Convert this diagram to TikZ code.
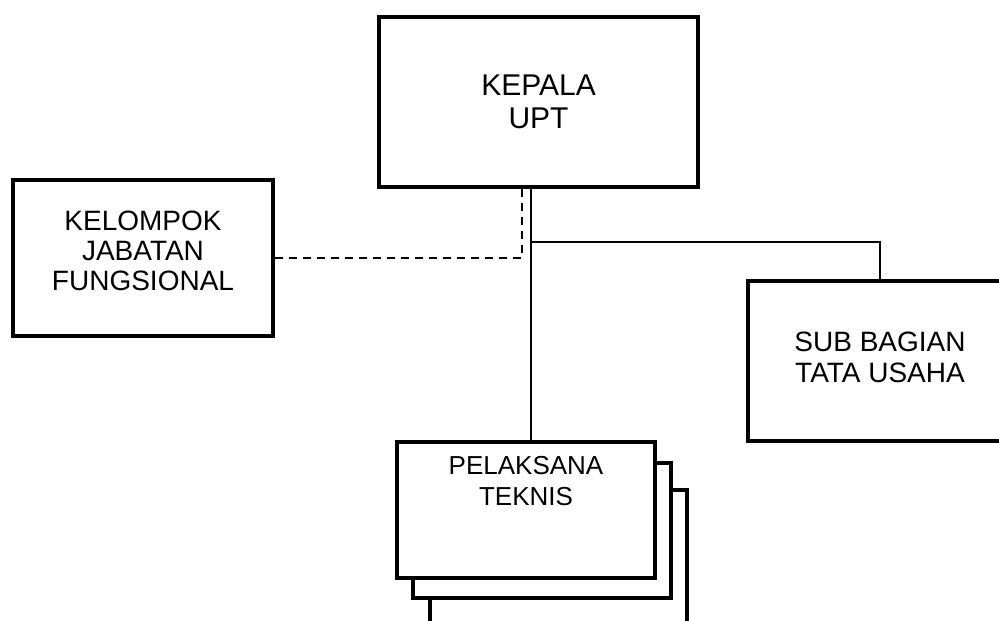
\documentclass[tikz,border=0pt]{standalone}
\usepackage{fontspec}
\setmainfont{Liberation Sans}
\usetikzlibrary{calc}
\begin{document}
\begin{tikzpicture}[x=1pt,y=-1pt,
  box/.style={draw,line width=3.2pt,fill=white,inner sep=0pt,align=center},
  link/.style={line width=2.6pt},
  dlink/.style={line width=2.8pt,dash pattern=on 8pt off 6pt},
  f30/.style={font=\fontsize{30}{33}\selectfont},
  f28/.style={font=\fontsize{28}{30}\selectfont},
  f28b/.style={font=\fontsize{28}{31}\selectfont},
  f26/.style={font=\fontsize{26}{31}\selectfont}]
\useasboundingbox (0,0) rectangle (999,621);
\begin{scope}
\clip (0,0) rectangle (999,621);
% head
\node[box,f30,minimum width=319pt,minimum height=170pt] (kepala) at (538.5,102) {KEPALA\\UPT};
% functional group
\node[box,f28,minimum width=260pt,minimum height=156pt,text depth=14pt] (kel) at (143,258) {KELOMPOK\\JABATAN\\FUNGSIONAL};
% sub bagian
\node[box,f28b,minimum width=264pt,minimum height=160pt,text depth=7pt] (sub) at (880,361) {SUB BAGIAN\\TATA USAHA};
% stacked pelaksana
\node[box,minimum width=257pt,minimum height=150pt] (pel3) at (558.5,565) {};
\node[box,minimum width=258pt,minimum height=135pt] (pel2) at (542,530.5) {};
\node[box,minimum width=258pt,minimum height=136pt] (pel1) at (526,510) {};
\node[f26,align=center,inner sep=0pt,anchor=north] (peltext) at ($(pel1.north)+(0,16)$) {PELAKSANA\\TEKNIS};
% connectors
\coordinate (m) at (531,0);
\coordinate (j) at (531,242);
\coordinate (d) at (522,258);
\draw[link] (kepala.south -| m) -- (pel1.north -| m);
\draw[link] (j) -| (sub.north);
\draw[dlink] (kepala.south -| d) |- (kel.east);
\end{scope}
\end{tikzpicture}
\end{document}
